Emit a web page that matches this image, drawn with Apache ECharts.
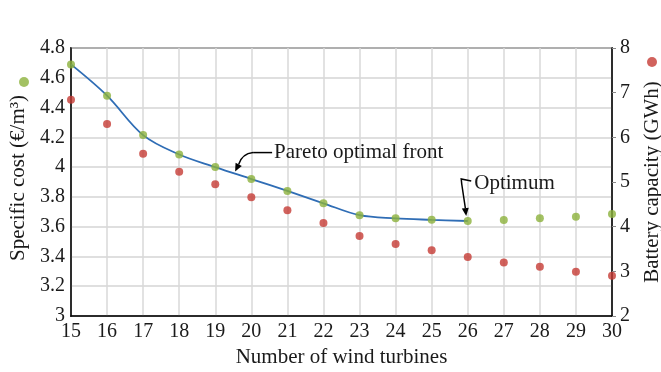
<!DOCTYPE html>
<html><head><meta charset="utf-8">
<script src="https://cdn.jsdelivr.net/npm/echarts@6/dist/echarts.min.js"></script>
<style>html,body{margin:0;padding:0;background:#fff}#c{width:661px;height:372px}</style>
</head><body><div id="c"></div>
<script>
// ---- data ----
const turbines = [15,16,17,18,19,20,21,22,23,24,25,26,27,28,29,30];
const specificCost = [4.69,4.48,4.215,4.085,4.00,3.92,3.84,3.757,3.677,3.656,3.646,3.638,3.645,3.656,3.667,3.685];
const batteryCapacity = [6.84,6.30,5.63,5.23,4.95,4.66,4.37,4.08,3.79,3.61,3.47,3.32,3.20,3.10,2.99,2.90];
const frontEndIndex = 11; // Pareto front runs from 15 to 26 turbines (the optimum)
const xTicks = {min:15, max:30, step:1};
const leftTicks = {min:3, max:4.8, step:0.2};
const rightTicks = {min:2, max:8, step:1};
const paretoAnchor = [19.55, 3.97];
const optimumIndex = 11;

const FONT = '"Liberation Serif","Times New Roman",serif';
const GREEN = '#8cb13c', RED = '#c63b35', BLUE = '#2f6db5', INK = '#1a1a1a';

const chart = echarts.init(document.getElementById('c'), null, {renderer:'canvas'});
const greenPts = turbines.map((x,i)=>[x, specificCost[i]]);
const redPts = turbines.map((x,i)=>[x, batteryCapacity[i]]);
const frontPts = greenPts.slice(0, frontEndIndex+1);

chart.setOption({
  animation:false,
  grid:{left:71,right:49,top:48,bottom:56,show:true,borderColor:'#000',borderWidth:1.5,backgroundColor:'transparent',outerBoundsMode:'none',containLabel:false},
  legend:[
    {data:['Specific cost'],left:19,top:77,padding:0,itemWidth:10,itemHeight:10,icon:'circle',selectedMode:false,formatter:()=>'',itemGap:0},
    {data:['Battery capacity'],left:647,top:57,padding:0,itemWidth:10,itemHeight:10,icon:'circle',selectedMode:false,formatter:()=>'',itemGap:0}
  ],
  xAxis:{type:'value',min:xTicks.min,max:xTicks.max,interval:xTicks.step,
    name:'Number of wind turbines',nameLocation:'middle',nameGap:31,
    nameTextStyle:{fontFamily:FONT,fontSize:21,color:INK},
    axisLine:{lineStyle:{color:'#000',width:1.5}},axisTick:{show:false},
    axisLabel:{fontFamily:FONT,fontSize:20,color:INK,margin:6},
    splitLine:{show:true,lineStyle:{color:'#d9d9d9',width:1.5}}},
  yAxis:[
    {type:'value',min:leftTicks.min,max:leftTicks.max,interval:leftTicks.step,position:'left',
     name:'Specific cost (€/m³)',nameLocation:'middle',nameGap:38,nameRotate:90,
     nameTextStyle:{fontFamily:FONT,fontSize:21,color:INK,padding:[0,0,0,8]},
     axisLine:{show:true,lineStyle:{color:'#000',width:1.5}},axisTick:{show:false},
     axisLabel:{fontFamily:FONT,fontSize:20,color:INK,margin:6,formatter:v=>String(+v.toFixed(1))},
     splitLine:{show:true,lineStyle:{color:'#d4d4d4',width:1.5}}},
    {type:'value',min:rightTicks.min,max:rightTicks.max,interval:rightTicks.step,position:'right',
     name:'Battery capacity (GWh)',nameLocation:'middle',nameGap:30,nameRotate:90,
     nameTextStyle:{fontFamily:FONT,fontSize:21,color:INK},
     axisLine:{show:true,lineStyle:{color:'#000',width:1.5}},
     axisTick:{show:true,inside:false,length:4,lineStyle:{color:'#888',width:1}},
     axisLabel:{fontFamily:FONT,fontSize:20,color:INK,margin:8},
     splitLine:{show:false}}
  ],
  series:[
    {name:'Pareto optimal front',type:'line',yAxisIndex:0,data:frontPts,smooth:0.35,symbol:'none',
     lineStyle:{color:BLUE,width:1.8},z:2},
    {name:'Battery capacity',type:'scatter',yAxisIndex:1,data:redPts,symbolSize:8,
     itemStyle:{color:RED},z:3},
    {name:'Specific cost',type:'scatter',yAxisIndex:0,data:greenPts,symbolSize:8,
     itemStyle:{color:GREEN},z:4}
  ]
});

function arrowHead(tx,ty,dx,dy,L,w){
  const n=Math.hypot(dx,dy); dx/=n; dy/=n;
  const bx=tx-dx*L, by=ty-dy*L;
  return {type:'polygon',shape:{points:[[tx,ty],[bx-dy*w,by+dx*w],[bx+dy*w,by-dx*w]]},style:{fill:'#000'},z:10};
}
const pa = chart.convertToPixel({xAxisIndex:0,yAxisIndex:0}, paretoAnchor);
const op = chart.convertToPixel({xAxisIndex:0,yAxisIndex:0}, greenPts[optimumIndex]);
const pTip=[pa[0],pa[1]];
const oTip=[op[0]-1.5,op[1]-5];
chart.setOption({graphic:[
  {type:'polyline',shape:{points:[[pTip[0]+37,pTip[1]-19],[pTip[0]+18,pTip[1]-19]]},style:{stroke:'#000',lineWidth:1.5,fill:null},z:10},
  {type:'bezierCurve',shape:{x1:pTip[0]+18,y1:pTip[1]-19,cpx1:pTip[0]+7,cpy1:pTip[1]-18,x2:pTip[0]+3.5,y2:pTip[1]-7},style:{stroke:'#000',lineWidth:1.5,fill:null},z:10},
  arrowHead(pTip[0],pTip[1],-0.45,0.9,8,3.5),
  {type:'text',x:pTip[0]+39,y:pTip[1]-19,style:{text:'Pareto optimal front',font:'21px '+FONT,fill:INK,verticalAlign:'middle',align:'left'},z:10},
  {type:'polyline',shape:{points:[[oTip[0]+5,oTip[1]-35],[oTip[0]-5,oTip[1]-37],[oTip[0]-4.5,oTip[1]-32],[oTip[0]-0.9,oTip[1]-8]]},style:{stroke:'#000',lineWidth:1.5,fill:null},z:10},
  arrowHead(oTip[0],oTip[1],0.12,1,8,3.5),
  {type:'text',x:oTip[0]+8,y:oTip[1]-33,style:{text:'Optimum',font:'21px '+FONT,fill:INK,verticalAlign:'middle',align:'left'},z:10}
]});
</script></body></html>
